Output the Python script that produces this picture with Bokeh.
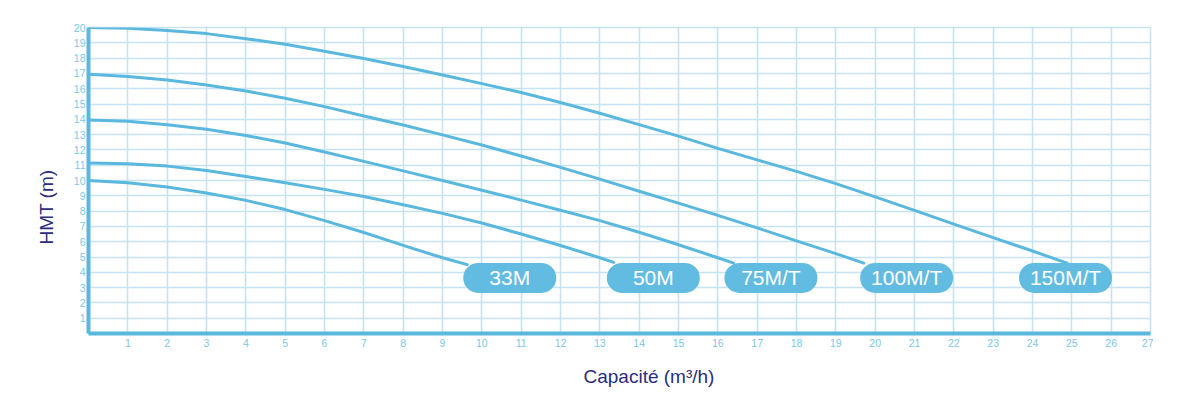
from bokeh.plotting import figure
from bokeh.models import Range1d, FixedTicker, ColumnDataSource, Title
from bokeh.core.properties import value
from bokeh.embed import file_html
from bokeh.resources import INLINE

# ---- data ----
x_ticks = list(range(1, 28))
y_ticks = list(range(1, 21))

q_33 = [0, 1, 2, 3, 4, 5, 6, 7, 8, 9, 9.63]
h_33 = [10.0, 9.85, 9.57, 9.18, 8.7, 8.1, 7.38, 6.6, 5.76, 4.95, 4.5]

q_50 = [0, 1, 2, 3, 4, 5, 6, 7, 8, 9, 10, 11, 12, 13, 13.35]
h_50 = [11.15, 11.1, 10.94, 10.65, 10.26, 9.85, 9.42, 8.95, 8.42, 7.85, 7.22, 6.5, 5.75, 4.95, 4.65]

q_75 = [0, 1, 2, 3, 4, 5, 6, 7, 8, 9, 10, 11, 12, 13, 14, 15, 16, 16.4]
h_75 = [13.96, 13.87, 13.65, 13.35, 12.94, 12.45, 11.86, 11.25, 10.63, 10.0, 9.36, 8.72, 8.06, 7.38, 6.62, 5.8, 4.95, 4.6]

q_100 = [0, 1, 2, 3, 4, 5, 6, 7, 8, 9, 10, 11, 12, 13, 14, 15, 16, 17, 18, 19, 19.71]
h_100 = [16.95, 16.8, 16.57, 16.24, 15.85, 15.37, 14.83, 14.22, 13.63, 12.98, 12.32, 11.6, 10.86,
         10.09, 9.3, 8.52, 7.72, 6.9, 6.05, 5.22, 4.6]

q_150 = [0, 1, 2, 3, 4, 5, 6, 7, 8, 9, 10, 11, 12, 13, 14, 15, 16, 17, 18, 19, 20, 21, 22, 23, 24, 24.88]
h_150 = [20.0, 19.95, 19.8, 19.6, 19.27, 18.9, 18.45, 17.97, 17.45, 16.9, 16.33, 15.75, 15.1, 14.4,
         13.65, 12.9, 12.1, 11.35, 10.6, 9.8, 8.93, 8.05, 7.15, 6.27, 5.39, 4.6]

label_names = ["33M", "50M", "75M/T", "100M/T", "150M/T"]
label_q = [10.71, 14.36, 17.35, 20.8, 24.84]
label_h = [3.63, 3.63, 3.63, 3.63, 3.63]

x_title = "Capacité (m³/h)"
y_title = "HMT (m)"

# ---- styles ----
CURVE = "#5ab8de"
GRID = "#c6e3f3"
BOX = "#62bce1"
TICK = "#7cc7ea"
NAVY = "#2b2d7c"
FONT = "Liberation Sans"

p = figure(width=1153, height=400,
           x_range=Range1d(0, 27), y_range=Range1d(0, 20),
           output_backend="svg", toolbar_location=None,
           min_border_left=88, min_border_right=3,
           min_border_top=27, min_border_bottom=66)

xt = FixedTicker(ticks=x_ticks)
yt = FixedTicker(ticks=y_ticks)
p.xaxis.ticker = xt
p.yaxis.ticker = yt
p.xgrid.ticker = xt
p.ygrid.ticker = yt

for g in (p.xgrid, p.ygrid):
    g.grid_line_color = GRID
    g.grid_line_width = 1.6

p.outline_line_color = GRID
p.outline_line_width = 1.6
p.background_fill_color = "white"
p.border_fill_color = "white"

for ax in (p.xaxis, p.yaxis):
    ax.axis_line_color = CURVE
    ax.axis_line_width = 4
    ax.major_tick_line_color = None
    ax.minor_tick_line_color = None
    ax.major_tick_out = 0
    ax.major_tick_in = 0
    ax.major_label_text_font = FONT
    ax.major_label_text_font_size = "10.5px"
    ax.major_label_text_color = TICK

p.xaxis.major_label_standoff = 5
p.yaxis.major_label_standoff = 3

for q, h in ((q_33, h_33), (q_50, h_50), (q_75, h_75), (q_100, h_100), (q_150, h_150)):
    p.line(q, h, line_color=CURVE, line_width=3, line_cap="round", line_join="round")

src = ColumnDataSource(dict(x=label_q, y=label_h, t=label_names))
p.rect(x="x", y="y", width=93, height=30, width_units="screen", height_units="screen",
       border_radius=15, fill_color=BOX, line_color=None, source=src)
p.text(x="x", y="y", text="t", source=src, text_align="center", text_baseline="middle",
       text_color="white", text_font=value(FONT), text_font_size=value("21px"))

# axis titles, placed off-centre as in the reference
p.add_layout(Title(text=x_title, align="left", offset=495, standoff=28,
                   text_font=FONT, text_font_size="19px", text_font_style="normal",
                   text_color=NAVY), "below")
p.add_layout(Title(text=y_title, align="left", offset=89, standoff=28,
                   text_font=FONT, text_font_size="19px", text_font_style="normal",
                   text_color=NAVY), "left")

open("out.html", "w").write(file_html(p, INLINE))
